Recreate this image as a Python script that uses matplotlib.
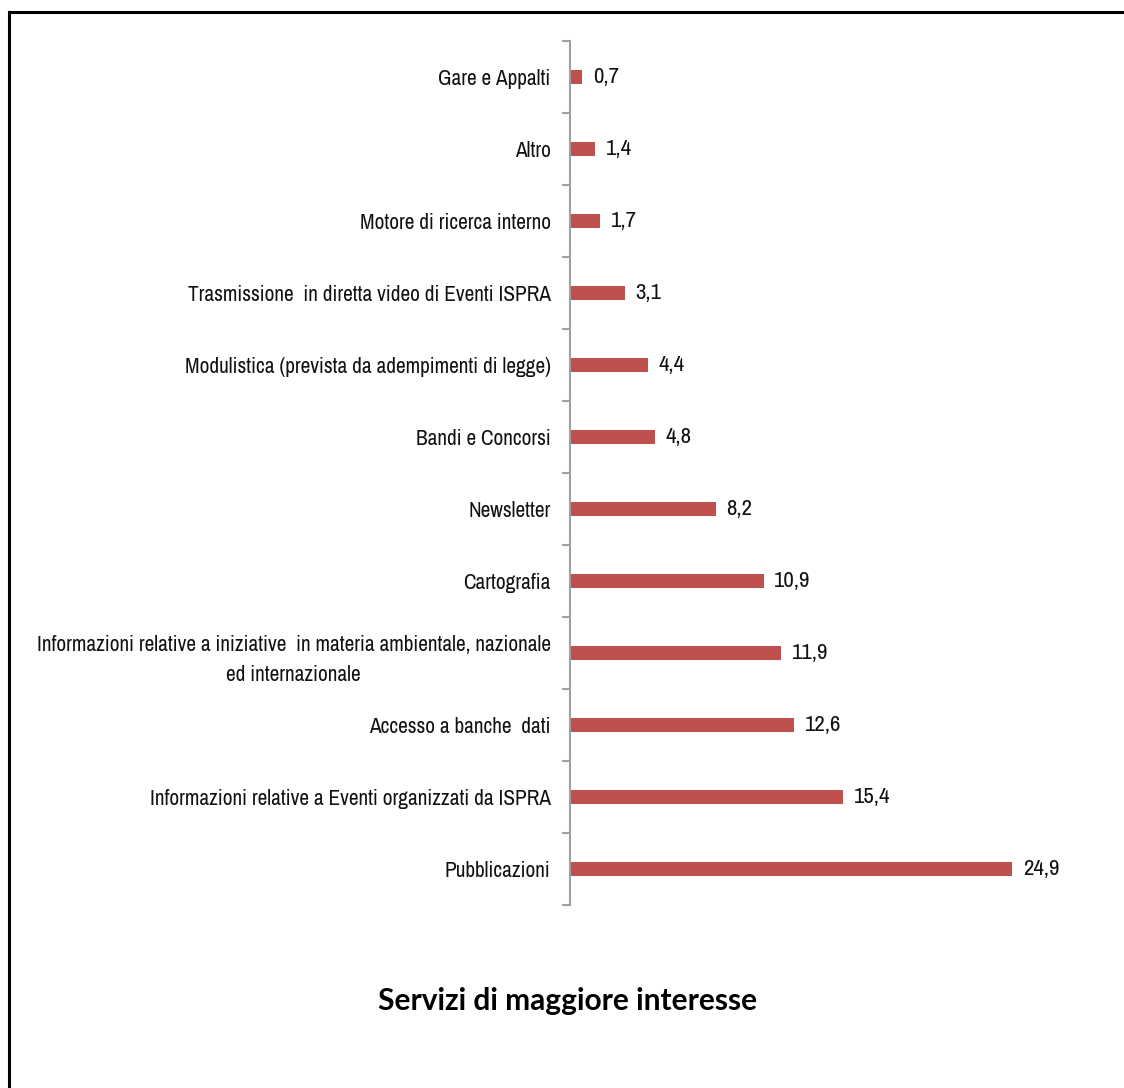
import matplotlib.pyplot as plt
from matplotlib import font_manager as fm
from matplotlib.patches import Rectangle

categories = [
    "Pubblicazioni",
    "Informazioni relative a Eventi organizzati da ISPRA",
    "Accesso a banche  dati",
    "Informazioni relative a iniziative  in materia ambientale, nazionale\ned internazionale",
    "Cartografia",
    "Newsletter",
    "Bandi e Concorsi",
    "Modulistica (prevista da adempimenti di legge)",
    "Trasmissione  in diretta video di Eventi ISPRA",
    "Motore di ricerca interno",
    "Altro",
    "Gare e Appalti",
]
values = [24.9, 15.4, 12.6, 11.9, 10.9, 8.2, 4.8, 4.4, 3.1, 1.7, 1.4, 0.7]
title = "Servizi di maggiore interesse"

# the original uses a narrow font; look for one, else fall back to Lato
narrow = [f for f in fm.fontManager.ttflist
          if (f.stretch in ('condensed', 'semi-condensed', 'extra-condensed')
              or 'Narrow' in f.name or 'Condensed' in f.name)
          and f.style == 'normal' and f.weight in (400, 'normal', 'regular', 'book')]
narrow.sort(key=lambda f: (0 if 'Liberation' in f.name else 1, f.name))
if narrow:
    lab_font = fm.FontProperties(fname=narrow[0].fname, size=15.3)
    val_font = fm.FontProperties(fname=narrow[0].fname, size=16.5)
else:
    lab_font = fm.FontProperties(family='Lato', size=13)
    val_font = fm.FontProperties(family='Lato', size=14)

fig = plt.figure(figsize=(11.24, 10.88), dpi=100)
ax = fig.add_axes([0.5071, 0.1682, 0.474, 0.7941])

pos = list(range(len(categories)))
ax.barh(pos, values, height=0.2, color='#C0504D')
for p, v in zip(pos, values):
    ax.text(v + 0.6, p, f"{v:.1f}".replace('.', ','), va='center', ha='left',
            fontproperties=val_font, color='#111111')

ax.set_ylim(-0.5, len(categories) - 0.5)
ax.set_xlim(0, 30)
ax.set_yticks(pos)
ax.set_yticklabels(categories, color='#111111', multialignment='center')
for lab in ax.get_yticklabels():
    lab.set_fontproperties(lab_font)
    if '\n' in lab.get_text():
        lab.set_linespacing(1.6)
ax.set_yticks([p - 0.5 for p in pos] + [len(categories) - 0.5], minor=True)
ax.tick_params(axis='y', which='major', length=0, pad=14)
ax.tick_params(axis='y', which='minor', length=6, color='#A0A0A0', width=1.5)
ax.set_xticks([])
for s in ['top', 'right', 'bottom']:
    ax.spines[s].set_visible(False)
ax.spines['left'].set_color('#A0A0A0')
ax.spines['left'].set_linewidth(1.5)

fig.text(0.505, 0.08, title, ha='center', va='center', fontsize=21.5,
         fontweight='bold', family=['Lato', 'DejaVu Sans'])

fig.patches.append(Rectangle((9 / 1124, -0.1), 1.2, 1 - 12 / 1088 + 0.1,
                             transform=fig.transFigure, fill=False,
                             edgecolor='black', linewidth=2.2))

fig.savefig('out.png', dpi=100)
